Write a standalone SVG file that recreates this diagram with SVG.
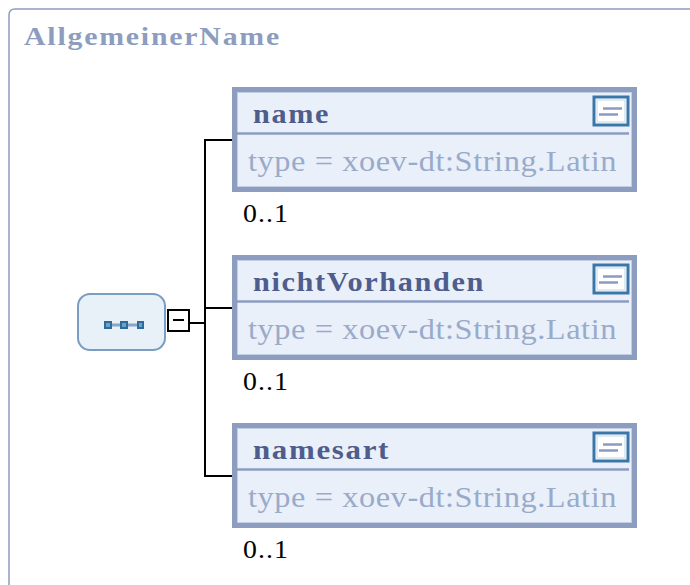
<svg xmlns="http://www.w3.org/2000/svg" width="690" height="585" viewBox="0 0 690 585">
<defs>
<style>
.frame{fill:#ffffff;stroke:#8d9dbf;stroke-width:1.5}
.title{font-family:"Liberation Serif","Times New Roman",serif;font-weight:bold;font-size:25px;letter-spacing:1.5px;fill:#8d9dbf}
.box{fill:#eaf0fa;stroke:#8d9dbf;stroke-width:5}
.boxin{fill:none;stroke:#c3cee3;stroke-width:1}
.div{stroke:#8d9dbf;stroke-width:2.5}
.nm{font-family:"Liberation Serif","Times New Roman",serif;font-weight:bold;font-size:28px;letter-spacing:1.5px;fill:#4e5d8c}
.ty{font-family:"Liberation Serif","Times New Roman",serif;font-size:29px;letter-spacing:0.5px;fill:#9aabca}
.occ{font-family:"Liberation Serif","Times New Roman",serif;font-size:26px;letter-spacing:1px;fill:#000000}
.ico{fill:#ffffff;stroke:#3a76a8;stroke-width:3}
.icoin{fill:none;stroke:#d6e3f0;stroke-width:1.5}
.icol{stroke:#8a9bc2;stroke-width:2.5}
.con{stroke:#000000;stroke-width:2;fill:none}
.sq{fill:#2f6a9c}
.sqc{fill:#6aa3cc}
</style>
</defs>
<path class="frame" d="M9,590 V15 Q9,9 15,9 H695"/>
<text class="title" x="24" y="45" textLength="257" lengthAdjust="spacingAndGlyphs">AllgemeinerName</text>

<g id="connectors">
<line class="con" x1="190" y1="323" x2="205" y2="323"/>
<line class="con" x1="205" y1="139" x2="205" y2="477"/>
<line class="con" x1="204" y1="140" x2="233" y2="140"/>
<line class="con" x1="205" y1="308" x2="233" y2="308"/>
<line class="con" x1="204" y1="476" x2="233" y2="476"/>
</g>

<g id="sequence">
<rect x="78" y="294" width="87" height="56" rx="12" fill="#e8f0f8" stroke="#7b9dc2" stroke-width="2"/>
<line x1="108" y1="325" x2="141" y2="325" stroke="#8aa4c8" stroke-width="3"/>
<rect class="sq" x="104" y="321" width="8" height="8"/>
<rect class="sq" x="120" y="321" width="8" height="8"/>
<rect class="sq" x="137" y="321" width="7" height="8"/>
<rect class="sqc" x="106" y="323" width="4" height="4"/>
<rect class="sqc" x="122" y="323" width="4" height="4"/>
<rect class="sqc" x="139" y="323" width="3" height="4"/>
<rect x="168" y="310" width="21" height="21" fill="#ffffff" stroke="#000000" stroke-width="2"/>
<line x1="173" y1="320" x2="184" y2="320" stroke="#000000" stroke-width="2"/>
</g>

<g id="name">
<rect class="box" x="234.5" y="89.5" width="400" height="100"/>
<rect class="boxin" x="237.5" y="92.5" width="394" height="94"/>
<line class="div" x1="237" y1="133.5" x2="629" y2="133.5"/>
<text class="nm" x="253" y="123" textLength="77" lengthAdjust="spacingAndGlyphs">name</text>
<rect class="ico" x="594" y="97" width="34" height="28"/>
<rect class="icoin" x="597" y="100" width="28" height="22"/>
<line class="icol" x1="603" y1="108.5" x2="622" y2="108.5"/>
<line class="icol" x1="599" y1="114.5" x2="618" y2="114.5"/>
<text class="ty" x="248" y="171" textLength="369" lengthAdjust="spacingAndGlyphs">type = xoev-dt:String.Latin</text>
<text class="occ" x="243" y="222" textLength="46" lengthAdjust="spacingAndGlyphs">0..1</text>
</g>

<g id="nichtVorhanden">
<rect class="box" x="234.5" y="257.5" width="400" height="100"/>
<rect class="boxin" x="237.5" y="260.5" width="394" height="94"/>
<line class="div" x1="237" y1="301.5" x2="629" y2="301.5"/>
<text class="nm" x="253" y="291" textLength="232" lengthAdjust="spacingAndGlyphs">nichtVorhanden</text>
<rect class="ico" x="594" y="265" width="34" height="28"/>
<rect class="icoin" x="597" y="268" width="28" height="22"/>
<line class="icol" x1="603" y1="276.5" x2="622" y2="276.5"/>
<line class="icol" x1="599" y1="282.5" x2="618" y2="282.5"/>
<text class="ty" x="248" y="339" textLength="369" lengthAdjust="spacingAndGlyphs">type = xoev-dt:String.Latin</text>
<text class="occ" x="243" y="390" textLength="46" lengthAdjust="spacingAndGlyphs">0..1</text>
</g>

<g id="namesart">
<rect class="box" x="234.5" y="425.5" width="400" height="100"/>
<rect class="boxin" x="237.5" y="428.5" width="394" height="94"/>
<line class="div" x1="237" y1="469.5" x2="629" y2="469.5"/>
<text class="nm" x="253" y="459" textLength="137" lengthAdjust="spacingAndGlyphs">namesart</text>
<rect class="ico" x="594" y="433" width="34" height="28"/>
<rect class="icoin" x="597" y="436" width="28" height="22"/>
<line class="icol" x1="603" y1="444.5" x2="622" y2="444.5"/>
<line class="icol" x1="599" y1="450.5" x2="618" y2="450.5"/>
<text class="ty" x="248" y="507" textLength="369" lengthAdjust="spacingAndGlyphs">type = xoev-dt:String.Latin</text>
<text class="occ" x="243" y="558" textLength="46" lengthAdjust="spacingAndGlyphs">0..1</text>
</g>
</svg>
